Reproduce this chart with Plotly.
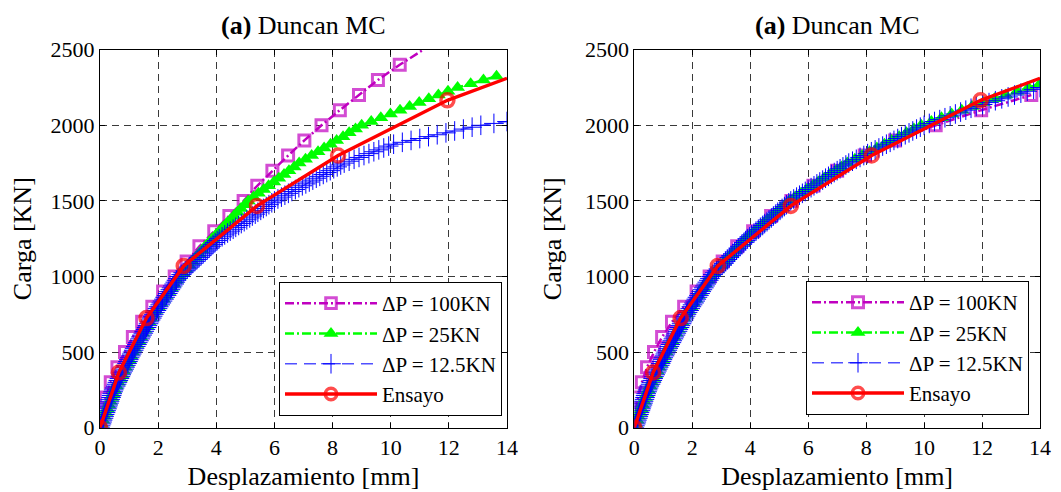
import plotly.graph_objects as go

# ---------------- data ----------------
# load steps [KN]
P100 = [0, 100, 200, 300, 400, 500, 600, 700, 800, 900, 1000, 1100, 1200,
        1300, 1400, 1500, 1600, 1700, 1800, 1900, 2000, 2100, 2200, 2300,
        2400, 2500]

P25 = [0, 25, 50, 75, 100, 125, 150, 175, 200, 225,
       250, 275, 300, 325, 350, 375, 400, 425, 450, 475,
       500, 525, 550, 575, 600, 625, 650, 675, 700, 725,
       750, 775, 800, 825, 850, 875, 900, 925, 950, 975,
       1000, 1025, 1050, 1075, 1100, 1125, 1150, 1175, 1200, 1225,
       1250, 1275, 1300, 1325, 1350, 1375, 1400, 1425, 1450, 1475,
       1500, 1525, 1550, 1575, 1600, 1625, 1650, 1675, 1700, 1725,
       1750, 1775, 1800, 1825, 1850, 1875, 1900, 1925, 1950, 1975,
       2000, 2025, 2050, 2075, 2100, 2125, 2150, 2175, 2200, 2225,
       2250, 2275, 2300, 2325]

P12 = [0, 12.5, 25, 37.5, 50, 62.5, 75, 87.5, 100, 112.5, 125, 137.5, 150, 162.5, 175, 187.5, 200, 212.5, 225, 237.5,
       250, 262.5, 275, 287.5, 300, 312.5, 325, 337.5, 350, 362.5, 375, 387.5, 400, 412.5, 425, 437.5, 450, 462.5, 475, 487.5,
       500, 512.5, 525, 537.5, 550, 562.5, 575, 587.5, 600, 612.5, 625, 637.5, 650, 662.5, 675, 687.5, 700, 712.5, 725, 737.5,
       750, 762.5, 775, 787.5, 800, 812.5, 825, 837.5, 850, 862.5, 875, 887.5, 900, 912.5, 925, 937.5, 950, 962.5, 975, 987.5,
       1000, 1012.5, 1025, 1037.5, 1050, 1062.5, 1075, 1087.5, 1100, 1112.5, 1125, 1137.5, 1150, 1162.5, 1175, 1187.5, 1200, 1212.5, 1225, 1237.5,
       1250, 1262.5, 1275, 1287.5, 1300, 1312.5, 1325, 1337.5, 1350, 1362.5, 1375, 1387.5, 1400, 1412.5, 1425, 1437.5, 1450, 1462.5, 1475, 1487.5,
       1500, 1512.5, 1525, 1537.5, 1550, 1562.5, 1575, 1587.5, 1600, 1612.5, 1625, 1637.5, 1650, 1662.5, 1675, 1687.5, 1700, 1712.5, 1725, 1737.5,
       1750, 1762.5, 1775, 1787.5, 1800, 1812.5, 1825, 1837.5, 1850, 1862.5, 1875, 1887.5, 1900, 1912.5, 1925, 1937.5, 1950, 1962.5, 1975, 1987.5,
       2000, 2012.5, 2025, 2037.5, 2050, 2062.5, 2075, 2087.5, 2100, 2112.5, 2125, 2137.5, 2150, 2162.5, 2175, 2187.5, 2200, 2212.5, 2225, 2237.5,
       2250]

# measured test (Ensayo)
ensayo_x = [0, 0.65, 1.6, 2.88, 5.4, 8.19, 11.95, 14.0]
ensayo_y = [0, 365, 725, 1070, 1467, 1800, 2165, 2311]

# --- left panel displacements [mm] ---
left_d100 = [0, 0.07, 0.20, 0.37, 0.60, 0.86, 1.13, 1.45, 1.80, 2.17, 2.57,
             2.98, 3.42, 3.93, 4.45, 4.94, 5.41, 5.93, 6.47, 7.03, 7.62,
             8.25, 8.91, 9.56, 10.31, 11.12]

left_d25 = [0, 0.05, 0.10, 0.15, 0.20, 0.25, 0.30, 0.35, 0.40, 0.45,
            0.50, 0.56, 0.62, 0.69, 0.75, 0.81, 0.87, 0.93, 1.00, 1.06,
            1.12, 1.19, 1.26, 1.33, 1.40, 1.47, 1.54, 1.61, 1.68, 1.75,
            1.82, 1.91, 2.00, 2.09, 2.18, 2.27, 2.36, 2.45, 2.54, 2.63,
            2.72, 2.83, 2.95, 3.06, 3.17, 3.29, 3.40, 3.51, 3.62, 3.74,
            3.85, 3.98, 4.10, 4.23, 4.35, 4.48, 4.60, 4.73, 4.85, 4.98,
            5.10, 5.28, 5.45, 5.63, 5.80, 5.98, 6.15, 6.33, 6.50, 6.68,
            6.85, 7.07, 7.28, 7.50, 7.71, 7.93, 8.14, 8.36, 8.57, 8.79,
            9.00, 9.33, 9.66, 9.99, 10.32, 10.65, 10.98, 11.31, 11.64, 11.97,
            12.30, 12.75, 13.19, 13.64]

left_d12 = [0, 0.02, 0.05, 0.07, 0.09, 0.12, 0.14, 0.16, 0.19, 0.21, 0.24, 0.26, 0.28, 0.31, 0.33, 0.35, 0.38, 0.40, 0.42, 0.45,
            0.47, 0.50, 0.54, 0.57, 0.60, 0.63, 0.67, 0.70, 0.73, 0.76, 0.80, 0.83, 0.86, 0.89, 0.93, 0.96, 0.99, 1.02, 1.06, 1.09,
            1.12, 1.16, 1.19, 1.23, 1.27, 1.30, 1.34, 1.38, 1.41, 1.45, 1.49, 1.52, 1.56, 1.60, 1.63, 1.67, 1.70, 1.74, 1.78, 1.81,
            1.85, 1.89, 1.94, 1.98, 2.02, 2.07, 2.11, 2.15, 2.20, 2.24, 2.29, 2.33, 2.37, 2.42, 2.46, 2.50, 2.55, 2.59, 2.63, 2.68,
            2.72, 2.79, 2.86, 2.93, 3.00, 3.07, 3.13, 3.20, 3.27, 3.34, 3.41, 3.48, 3.55, 3.62, 3.69, 3.76, 3.82, 3.89, 3.96, 4.03,
            4.10, 4.20, 4.29, 4.39, 4.48, 4.58, 4.67, 4.77, 4.86, 4.96, 5.05, 5.15, 5.24, 5.34, 5.43, 5.53, 5.62, 5.72, 5.81, 5.91,
            6.00, 6.12, 6.24, 6.36, 6.48, 6.60, 6.72, 6.84, 6.96, 7.08, 7.20, 7.32, 7.44, 7.56, 7.68, 7.80, 7.92, 8.04, 8.16, 8.28,
            8.40, 8.57, 8.74, 8.91, 9.08, 9.25, 9.42, 9.59, 9.76, 9.93, 10.10, 10.40, 10.70, 11.00, 11.30, 11.60, 11.90, 12.20, 12.50, 12.80,
            13.10, 13.55, 14.00]

# --- right panel displacements [mm] ---
right_d100 = [0, 0.04, 0.13, 0.26, 0.44, 0.68, 0.96, 1.30, 1.72, 2.15, 2.60,
              3.05, 3.55, 4.10, 4.72, 5.42, 6.18, 7.00, 7.95, 9.00, 10.40,
              11.97, 13.70]

right_d25 = [0, 0.05, 0.10, 0.14, 0.19, 0.24, 0.29, 0.34, 0.38, 0.43,
             0.48, 0.54, 0.60, 0.67, 0.73, 0.79, 0.85, 0.91, 0.98, 1.04,
             1.10, 1.17, 1.24, 1.30, 1.37, 1.44, 1.51, 1.58, 1.64, 1.71,
             1.78, 1.86, 1.95, 2.03, 2.12, 2.20, 2.28, 2.37, 2.45, 2.54,
             2.62, 2.74, 2.87, 2.99, 3.11, 3.24, 3.36, 3.48, 3.60, 3.73,
             3.85, 4.00, 4.15, 4.30, 4.45, 4.60, 4.75, 4.90, 5.05, 5.20,
             5.35, 5.55, 5.75, 5.95, 6.15, 6.35, 6.55, 6.75, 6.95, 7.15,
             7.35, 7.61, 7.86, 8.12, 8.37, 8.63, 8.88, 9.14, 9.39, 9.65,
             9.90, 10.25, 10.60, 10.95, 11.30, 11.65, 12.04, 12.43, 12.82, 13.21,
             13.60, 14.00]

right_d12 = [0, 0.02, 0.05, 0.07, 0.09, 0.12, 0.14, 0.16, 0.18, 0.21, 0.23, 0.25, 0.28, 0.30, 0.32, 0.35, 0.37, 0.39, 0.41, 0.44,
             0.46, 0.49, 0.52, 0.56, 0.59, 0.62, 0.65, 0.68, 0.72, 0.75, 0.78, 0.81, 0.84, 0.88, 0.91, 0.94, 0.97, 1.00, 1.04, 1.07,
             1.10, 1.14, 1.17, 1.21, 1.24, 1.28, 1.31, 1.35, 1.38, 1.42, 1.45, 1.49, 1.52, 1.56, 1.59, 1.63, 1.66, 1.70, 1.73, 1.77,
             1.80, 1.84, 1.89, 1.93, 1.97, 2.01, 2.06, 2.10, 2.14, 2.18, 2.23, 2.27, 2.31, 2.35, 2.40, 2.44, 2.48, 2.52, 2.57, 2.61,
             2.65, 2.71, 2.78, 2.84, 2.90, 2.96, 3.03, 3.09, 3.15, 3.21, 3.28, 3.34, 3.40, 3.46, 3.53, 3.59, 3.65, 3.71, 3.78, 3.84,
             3.90, 3.98, 4.05, 4.13, 4.20, 4.28, 4.35, 4.43, 4.50, 4.58, 4.65, 4.73, 4.80, 4.88, 4.95, 5.03, 5.10, 5.18, 5.25, 5.33,
             5.40, 5.50, 5.60, 5.70, 5.80, 5.90, 6.00, 6.10, 6.20, 6.30, 6.40, 6.50, 6.60, 6.70, 6.80, 6.90, 7.00, 7.10, 7.20, 7.30,
             7.40, 7.53, 7.66, 7.79, 7.92, 8.05, 8.18, 8.31, 8.44, 8.57, 8.70, 8.83, 8.96, 9.09, 9.22, 9.35, 9.48, 9.61, 9.74, 9.87,
             10.00, 10.18, 10.36, 10.54, 10.72, 10.90, 11.08, 11.26, 11.44, 11.62, 11.80, 12.02, 12.24, 12.46, 12.68, 12.90, 13.12, 13.34, 13.56, 13.78,
             14.00]

series_names = ["\u0394P = 100KN", "\u0394P = 25KN", "\u0394P = 12.5KN", "Ensayo"]
panel_title = "<b>(a)</b> Duncan MC"
x_title = "Desplazamiento [mm]"
y_title = "Carga [KN]"

# ---------------- styling ----------------
FONT = "Liberation Serif"
OFF = 8                      # page body margin of the browser
W, H = 1061 - OFF, 492 - OFF
MAG = "#C000C0"
GRN = "#00FF00"
BLU = "#0000FF"
RED = "#FF0000"


def px_x(px):
    return (px - OFF) / W


def px_y(px):
    return 1 - (px - OFF) / H


fig = go.Figure()


def add_panel(xa, ya, leg, d100, d25, d12):
    n100 = len(d100)
    fig.add_trace(go.Scatter(
        x=d100, y=P100[:n100], name=series_names[0], mode="lines+markers",
        xaxis=xa, yaxis=ya, legend=leg,
        line=dict(color=MAG, width=2.5, dash="9px,3px,2px,3px"),
        marker=dict(symbol="square-open", color=MAG, line=dict(width=3, color=MAG),
                    size=[11] * (n100 - 1) + [0 if P100[n100 - 1] >= 2500 else 11])))
    fig.add_trace(go.Scatter(
        x=d25, y=P25[:len(d25)], name=series_names[1], mode="lines+markers",
        xaxis=xa, yaxis=ya, legend=leg,
        line=dict(color=GRN, width=2.5, dash="9px,3px,2px,3px"),
        marker=dict(symbol="triangle-up", color=GRN, size=13)))
    fig.add_trace(go.Scatter(
        x=d12, y=P12[:len(d12)], name=series_names[2], mode="lines+markers",
        xaxis=xa, yaxis=ya, legend=leg,
        line=dict(color="#5050FF", width=1.3, dash="12px,7px"),
        marker=dict(symbol="cross-thin", color=BLU, size=14, line=dict(width=1, color=BLU))))
    ne = len(ensayo_x)
    fig.add_trace(go.Scatter(
        x=ensayo_x, y=ensayo_y, name=series_names[3], mode="lines+markers",
        xaxis=xa, yaxis=ya, legend=leg,
        line=dict(color=RED, width=3.4),
        marker=dict(symbol="circle-open", color=RED, line=dict(width=3.5, color=RED),
                    size=[13] * (ne - 1) + [0])))


add_panel("x", "y", "legend", left_d100, left_d25, left_d12)
add_panel("x2", "y2", "legend2", right_d100, right_d25, right_d12)

x1_dom = [px_x(100), px_x(507)]
x2_dom = [px_x(634.3), px_x(1040)]
y_dom = [px_y(427.7), px_y(49.7)]

axis_common = dict(
    showline=True, linecolor="black", linewidth=1, mirror="allticks",
    ticks="inside", ticklen=5, tickcolor="black", tickwidth=1,
    showgrid=True, gridcolor="#3a3a3a", gridwidth=1, griddash="7px,5px",
    zeroline=False, tickfont=dict(family=FONT, size=22, color="black"),
    automargin=False,
)

xcommon = dict(axis_common, range=[0, 14], tick0=0, dtick=2,
               title=dict(text=x_title, font=dict(family=FONT, size=26, color="black"), standoff=7))
ycommon = dict(axis_common, range=[0, 2500], tick0=0, dtick=500,
               title=dict(text=y_title, font=dict(family=FONT, size=26, color="black"), standoff=15))

leg_common = dict(bgcolor="white", bordercolor="black", borderwidth=1,
                  font=dict(family=FONT, size=21, color="black"),
                  xanchor="right", yanchor="bottom", itemwidth=92,
                  tracegroupgap=0, traceorder="normal")

fig.update_layout(
    width=W, height=H,
    margin=dict(l=0, r=0, t=0, b=0),
    paper_bgcolor="white", plot_bgcolor="white",
    font=dict(family=FONT, color="black"),
    xaxis=dict(xcommon, domain=x1_dom, anchor="y"),
    yaxis=dict(ycommon, domain=y_dom, anchor="x"),
    xaxis2=dict(xcommon, domain=x2_dom, anchor="y2"),
    yaxis2=dict(ycommon, domain=y_dom, anchor="x2"),
    legend=dict(leg_common, x=px_x(502), y=px_y(416)),
    legend2=dict(leg_common, x=px_x(1029), y=px_y(415)),
    annotations=[
        dict(text=panel_title, xref="paper", yref="paper",
             x=sum(x1_dom) / 2, y=px_y(26), xanchor="center", yanchor="middle",
             showarrow=False, font=dict(family=FONT, size=26, color="black")),
        dict(text=panel_title, xref="paper", yref="paper",
             x=sum(x2_dom) / 2, y=px_y(26), xanchor="center", yanchor="middle",
             showarrow=False, font=dict(family=FONT, size=26, color="black")),
    ],
)

fig.write_html("out.html")
